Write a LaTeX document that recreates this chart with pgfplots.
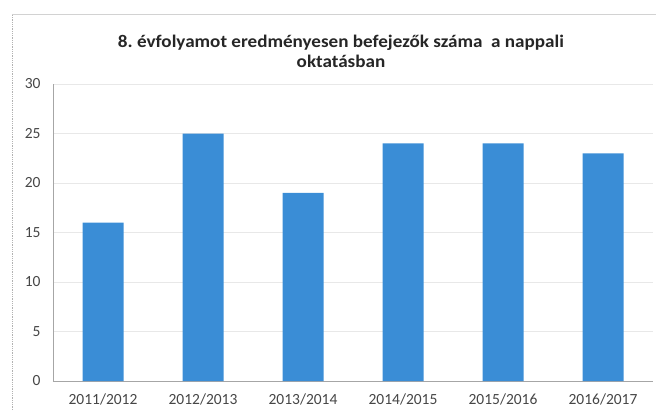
\documentclass[border=0pt]{standalone}
\usepackage{fontspec}
\setmainfont{Carlito}
\usepackage{pgfplots}
\pgfplotsset{compat=1.18}
\definecolor{barblue}{RGB}{58,141,214}
\definecolor{ticktext}{RGB}{70,70,70}
\frenchspacing
\begin{document}
\begin{tikzpicture}[x=1pt,y=1pt]
\path[use as bounding box] (0,0) rectangle (656,410);
\draw[gray!60, densely dotted, line width=0.8pt] (12,0) -- (12,396);
\draw[gray!35, line width=0.8pt] (12,396) -- (656,396);
\node[align=center, font=\addfontfeature{FakeStretch=1.08}\bfseries\fontsize{17.7}{20}\selectfont, text=black!85] at (341,359) {8. évfolyamot eredményesen befejezők száma\ \ a nappali\\oktatásban};
\begin{axis}[
  at={(53pt,29pt)}, anchor=south west,
  scale only axis, width=600pt, height=297pt,
  xmin=-0.5, xmax=5.5, ymin=0, ymax=30,
  ytick={0,5,...,30},
  xtick=data,
  xticklabels={2011/2012,2012/2013,2013/2014,2014/2015,2015/2016,2016/2017},
  ybar, bar width=41pt,
  axis x line*=bottom, axis y line*=left,
  axis line style={gray!70, line width=0.6pt},
  ymajorgrids, grid style={gray!18, line width=0.6pt},
  major tick length=0pt,
  tick label style={font=\fontsize{15.5}{17}\selectfont, text=ticktext},
  yticklabel style={xshift=-9pt},
  xticklabel style={yshift=-9pt},
  /pgf/number format/assume math mode=true,
]
\addplot[fill=barblue, draw=none] coordinates {(0,16) (1,25) (2,19) (3,24) (4,24) (5,23)};
\end{axis}
\end{tikzpicture}
\end{document}
